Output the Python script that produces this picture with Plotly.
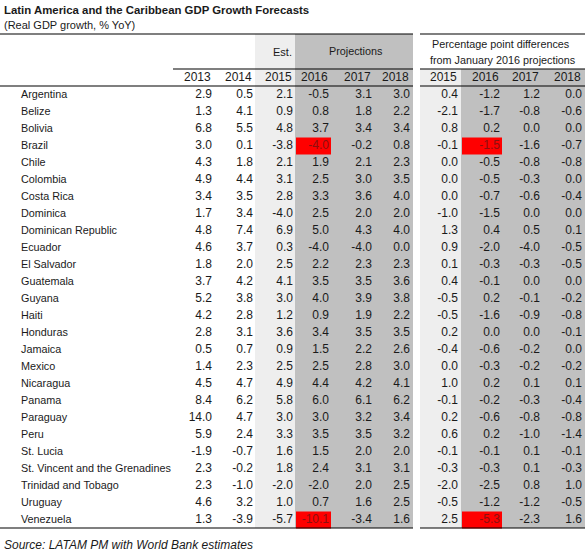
import plotly.graph_objects as go

# ---------------- data ----------------
countries = [
    "Argentina", "Belize", "Bolivia", "Brazil", "Chile", "Colombia", "Costa Rica",
    "Dominica", "Dominican Republic", "Ecuador", "El Salvador", "Guatemala", "Guyana",
    "Haiti", "Honduras", "Jamaica", "Mexico", "Nicaragua", "Panama", "Paraguay", "Peru",
    "St. Lucia", "St. Vincent and the Grenadines", "Trinidad and Tobago", "Uruguay",
    "Venezuela",
]
growth_2013 = [2.9, 1.3, 6.8, 3.0, 4.3, 4.9, 3.4, 1.7, 4.8, 4.6, 1.8, 3.7, 5.2, 4.2, 2.8, 0.5, 1.4, 4.5, 8.4, 14.0, 5.9, -1.9, 2.3, 2.3, 4.6, 1.3]
growth_2014 = [0.5, 4.1, 5.5, 0.1, 1.8, 4.4, 3.5, 3.4, 7.4, 3.7, 2.0, 4.2, 3.8, 2.8, 3.1, 0.7, 2.3, 4.7, 6.2, 4.7, 2.4, -0.7, -0.2, -1.0, 3.2, -3.9]
growth_2015 = [2.1, 0.9, 4.8, -3.8, 2.1, 3.1, 2.8, -4.0, 6.9, 0.3, 2.5, 4.1, 3.0, 1.2, 3.6, 0.9, 2.5, 4.9, 5.8, 3.0, 3.3, 1.6, 1.8, -2.0, 1.0, -5.7]
growth_2016 = [-0.5, 0.8, 3.7, -4.0, 1.9, 2.5, 3.3, 2.5, 5.0, -4.0, 2.2, 3.5, 4.0, 0.9, 3.4, 1.5, 2.5, 4.4, 6.0, 3.0, 3.5, 1.5, 2.4, -2.0, 0.7, -10.1]
growth_2017 = [3.1, 1.8, 3.4, -0.2, 2.1, 3.0, 3.6, 2.0, 4.3, -4.0, 2.3, 3.5, 3.9, 1.9, 3.5, 2.2, 2.8, 4.2, 6.1, 3.2, 3.5, 2.0, 3.1, 2.0, 1.6, -3.4]
growth_2018 = [3.0, 2.2, 3.4, 0.8, 2.3, 3.5, 4.0, 2.0, 4.0, 0.0, 2.3, 3.6, 3.8, 2.2, 3.5, 2.6, 3.0, 4.1, 6.2, 3.4, 3.2, 2.0, 3.1, 2.5, 2.5, 1.6]
diff_2015 = [0.4, -2.1, 0.8, -0.1, 0.0, 0.0, 0.0, -1.0, 1.3, 0.9, 0.1, 0.4, -0.5, -0.5, 0.2, -0.4, 0.0, 1.0, -0.1, 0.2, 0.6, -0.1, -0.3, -2.0, -0.5, 2.5]
diff_2016 = [-1.2, -1.7, 0.2, -1.5, -0.5, -0.5, -0.7, -1.5, 0.4, -2.0, -0.3, -0.1, 0.2, -1.6, 0.0, -0.6, -0.3, 0.2, -0.2, -0.6, 0.2, -0.1, -0.3, -2.5, -1.2, -5.3]
diff_2017 = [1.2, -0.8, 0.0, -1.6, -0.8, -0.3, -0.6, 0.0, 0.5, -4.0, -0.3, 0.0, -0.1, -0.9, 0.0, -0.2, -0.2, 0.1, -0.3, -0.8, -1.0, 0.1, 0.1, 0.8, -1.2, -2.3]
diff_2018 = [0.0, -0.6, 0.0, -0.7, -0.8, 0.0, -0.4, 0.0, 0.1, -0.5, -0.5, 0.0, -0.2, -0.8, -0.1, 0.0, -0.2, 0.1, -0.4, -0.8, -1.4, -0.1, -0.3, 1.0, -0.5, 1.6]
year_labels = ["2013", "2014", "2015", "2016", "2017", "2018"]
diff_year_labels = ["2015", "2016", "2017", "2018"]
highlighted_countries = ["Brazil", "Venezuela"]  # red cells in 2016 columns

title_text = "Latin America and the Caribbean GDP Growth Forecasts"
subtitle_text = "(Real GDP growth, % YoY)"
source_text = "Source: LATAM PM with World Bank estimates"

# ---------------- layout constants ----------------
W, H = 585, 557
ROW0, PITCH = 95, 17
FONT = "Arial, 'Liberation Sans', sans-serif"
TXT = "#1a1a1a"
LIGHT = "#eeeeee"
DARK = "#c0c0c0"
RED = "#ff0000"
RED_TXT = "#8b1010"

name_x = 21
main_right = [212, 253, 293, 329, 372, 410]
diff_right = [458, 500, 540, 582]

row_y = [ROW0 + PITCH * i for i in range(len(countries))]

fig = go.Figure()

shapes = []
# background bands
shapes.append(dict(type="rect", x0=255, x1=295, y0=34, y1=528, fillcolor=LIGHT, line_width=0, layer="below"))
shapes.append(dict(type="rect", x0=295, x1=413, y0=34, y1=528, fillcolor=DARK, line_width=0, layer="below"))
shapes.append(dict(type="rect", x0=420, x1=461, y0=69, y1=528, fillcolor=LIGHT, line_width=0, layer="below"))
shapes.append(dict(type="rect", x0=461, x1=W, y0=69, y1=528, fillcolor=DARK, line_width=0, layer="below"))

# highlighted red cells
for i, c in enumerate(countries):
    if c in highlighted_countries:
        y = row_y[i]
        shapes.append(dict(type="rect", x0=296, x1=331, y0=y - 8.5, y1=y + 8.5, fillcolor=RED, line_width=0, layer="below"))
        shapes.append(dict(type="rect", x0=462, x1=502, y0=y - 8.5, y1=y + 8.5, fillcolor=RED, line_width=0, layer="below"))


def hline(x0, x1, y, w=1.2):
    shapes.append(dict(type="line", x0=x0, x1=x1, y0=y, y1=y, line=dict(color="#000000", width=w), layer="above"))


hline(0, 413, 34)
hline(420, W, 34)
hline(173, 413, 69)
hline(420, W, 69)
hline(0, 413, 86)
hline(420, W, 86)
hline(0, 413, 528)
hline(420, W, 528)

# country names
fig.add_trace(go.Scatter(
    x=[name_x] * len(countries), y=row_y, text=countries, mode="text",
    textposition="middle right", textfont=dict(family=FONT, size=10.8, color=TXT),
    hoverinfo="skip", showlegend=False,
))

main_cols = [growth_2013, growth_2014, growth_2015, growth_2016, growth_2017, growth_2018]
diff_cols = [diff_2015, diff_2016, diff_2017, diff_2018]


def add_col(vals, xr, red_col):
    colors = [RED_TXT if (red_col and countries[i] in highlighted_countries) else TXT for i in range(len(vals))]
    fig.add_trace(go.Scatter(
        x=[xr] * len(vals), y=row_y, text=[f"{v:.1f}" for v in vals], mode="text",
        textposition="middle left", textfont=dict(family=FONT, size=12, color=colors),
        hoverinfo="skip", showlegend=False,
    ))


for k, vals in enumerate(main_cols):
    add_col(vals, main_right[k], year_labels[k] == "2016")
for k, vals in enumerate(diff_cols):
    add_col(vals, diff_right[k], diff_year_labels[k] == "2016")

annotations = []


def ann(text, x, y, xanchor, size=12, bold=False, italic=False):
    t = text
    if bold:
        t = f"<b>{t}</b>"
    if italic:
        t = f"<i>{t}</i>"
    annotations.append(dict(text=t, x=x, y=y, xref="x", yref="y", xanchor=xanchor, yanchor="middle",
                            showarrow=False, font=dict(family=FONT, size=size, color=TXT)))


# year header row
for k, lab in enumerate(year_labels):
    ann(lab, main_right[k] + 1, 77, "right")
for k, lab in enumerate(diff_year_labels):
    ann(lab, diff_right[k] + 1, 77, "right")

ann("Est.", 294, 52, "right", size=11)
ann("Projections", 356, 51, "center", size=10.8)
ann("Percentage point differences", 501, 44, "center", size=10.8)
ann("from January 2016 projections", 503, 60, "center", size=10.8)

ann(title_text, 2, 10, "left", size=11.4, bold=True)
ann(subtitle_text, 2, 25, "left", size=11)
ann(source_text, 2, 545, "left", size=12, italic=True)

fig.update_layout(
    width=W, height=H, margin=dict(l=0, r=0, t=0, b=0),
    paper_bgcolor="white", plot_bgcolor="white",
    xaxis=dict(range=[0, W], visible=False, fixedrange=True),
    yaxis=dict(range=[H, 0], visible=False, fixedrange=True),
    shapes=shapes, annotations=annotations, showlegend=False,
    hovermode=False,
)

# remove the browser's default 8px page margin so the figure fills the window
fig.write_html(
    "out.html",
    config={"displayModeBar": False, "staticPlot": True},
    post_script="document.body.style.margin='0';document.body.style.overflow='hidden';",
)
